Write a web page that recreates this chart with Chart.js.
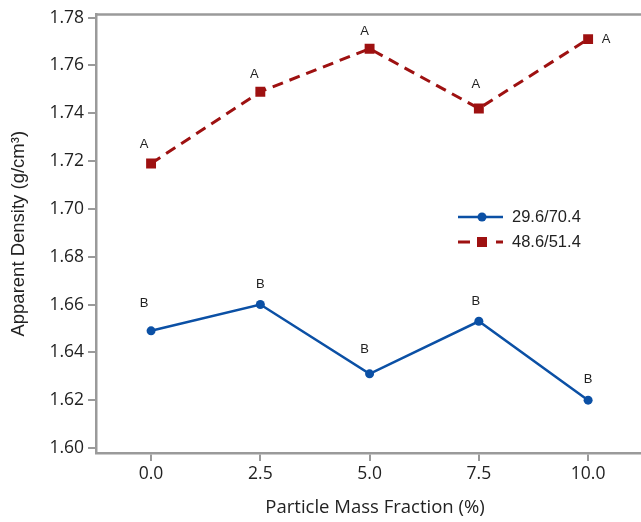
<!DOCTYPE html>
<html>
<head>
<meta charset="utf-8">
<script src="https://cdn.jsdelivr.net/npm/chart.js@4/dist/chart.umd.min.js"></script>
<style>
html,body{margin:0;padding:0;background:#fff;overflow:hidden;}
#wrap{width:641px;height:522px;position:relative;overflow:hidden;}
canvas{display:block;}
</style>
</head>
<body>
<div id="wrap"><canvas id="c" width="641" height="522"></canvas></div>
<script>
const massFraction = [0.0, 2.5, 5.0, 7.5, 10.0];
const series1Name = "29.6/70.4";
const series1Values = [1.649, 1.660, 1.631, 1.653, 1.620];
const series1Letters = ["B", "B", "B", "B", "B"];
const series2Name = "48.6/51.4";
const series2Values = [1.719, 1.749, 1.767, 1.742, 1.771];
const series2Letters = ["A", "A", "A", "A", "A"];
const yTickValues = [1.60, 1.62, 1.64, 1.66, 1.68, 1.70, 1.72, 1.74, 1.76, 1.78];
const xTickValues = [0.0, 2.5, 5.0, 7.5, 10.0];
const xTitle = 'Particle Mass Fraction (%)';
const yTitle = 'Apparent Density (g/cm³)';

const BLUE = '#0b50a5';
const RED = '#9e1111';
const AXIS = '#9a9a9a';
const FONT = "'Open Sans', 'Noto Sans', sans-serif";
const ARIAL = "'Liberation Sans', Arial, sans-serif";

const toPts = (xs, ys) => xs.map((x, i) => ({x: x, y: ys[i]}));

const letterPlugin = {
  id: 'letters',
  afterDatasetsDraw(chart) {
    const ctx = chart.ctx;
    const xs = chart.scales.x, ys = chart.scales.y;
    ctx.save();
    ctx.font = "13px " + ARIAL;
    ctx.fillStyle = '#222';
    ctx.textAlign = 'center';
    ctx.textBaseline = 'middle';
    const draw = (vals, letters, offs) => {
      vals.forEach((v, i) => {
        const px = xs.getPixelForValue(massFraction[i]);
        const py = ys.getPixelForValue(v);
        ctx.fillText(letters[i], px + offs[i][0], py + offs[i][1]);
      });
    };
    draw(series2Values, series2Letters, [[-7,-19],[-6,-17],[-5,-17],[-3,-24],[18,0]]);
    draw(series1Values, series1Letters, [[-7,-27],[0,-20],[-5,-24],[-3,-20],[0,-21]]);
    ctx.restore();
  }
};

const framePlugin = {
  id: 'frame',
  afterDraw(chart) {
    const ctx = chart.ctx;
    const a = chart.chartArea;
    ctx.save();
    ctx.strokeStyle = AXIS;
    ctx.lineWidth = 2.5;
    ctx.beginPath();
    ctx.moveTo(a.left, a.top);
    ctx.lineTo(chart.width, a.top);
    ctx.stroke();
    ctx.restore();

    // x-axis title
    ctx.save();
    ctx.fillStyle = '#222';
    ctx.font = "18.5px " + FONT;
    ctx.textAlign = 'center';
    ctx.textBaseline = 'middle';
    ctx.fillText(xTitle, 375, 508);
    ctx.restore();

    // custom legend
    ctx.save();
    const lx = 458, lw = 45;
    const rows = [
      {y: 217, name: series1Name, color: BLUE, style: 'circle'},
      {y: 242, name: series2Name, color: RED, style: 'rect'}
    ];
    rows.forEach(r => {
      ctx.strokeStyle = r.color;
      ctx.lineWidth = r.style === 'rect' ? 3 : 2.5;
      ctx.beginPath();
      if (r.style === 'rect') {
        ctx.moveTo(lx, r.y); ctx.lineTo(lx + 12, r.y);
        ctx.moveTo(lx + lw - 7, r.y); ctx.lineTo(lx + lw, r.y);
      } else {
        ctx.moveTo(lx, r.y); ctx.lineTo(lx + lw, r.y);
      }
      ctx.stroke();
      ctx.fillStyle = r.color;
      const cx = 482;
      if (r.style === 'circle') {
        ctx.beginPath(); ctx.arc(cx, r.y, 4.5, 0, Math.PI * 2); ctx.fill();
      } else {
        ctx.fillRect(cx - 5, r.y - 5, 10, 10);
      }
      ctx.fillStyle = '#222';
      ctx.font = "16.5px " + ARIAL;
      ctx.textAlign = 'left';
      ctx.textBaseline = 'middle';
      ctx.fillText(r.name, 512, r.y);
    });
    ctx.restore();
  }
};

new Chart(document.getElementById('c'), {
  type: 'line',
  data: {
    datasets: [
      {
        label: series1Name,
        data: toPts(massFraction, series1Values),
        borderColor: BLUE,
        backgroundColor: BLUE,
        borderWidth: 2.5,
        pointStyle: 'circle',
        pointRadius: 4.5,
        pointBorderWidth: 0,
        tension: 0
      },
      {
        label: series2Name,
        data: toPts(massFraction, series2Values),
        borderColor: RED,
        backgroundColor: RED,
        borderWidth: 3,
        borderDash: [11, 7],
        pointStyle: 'rect',
        pointRadius: 7,
        pointBorderWidth: 0,
        tension: 0
      }
    ]
  },
  options: {
    responsive: false,
    animation: false,
    layout: {autoPadding: false, padding: {top: 14, right: 0, left: 0, bottom: 0}},
    plugins: {legend: {display: false}, tooltip: {enabled: false}},
    scales: {
      x: {
        type: 'linear',
        min: -1.26,
        max: 11.21,
        afterBuildTicks: s => { s.ticks = xTickValues.map(v => ({value: v})); },
        afterFit: s => { s.height = 69; s.paddingLeft = 0; s.paddingRight = 0; },
        ticks: {
          callback: v => Number(v).toFixed(1),
          color: '#222',
          font: {size: 17.5, family: FONT},
          padding: 3,
          maxRotation: 0
        },
        grid: {display: true, drawOnChartArea: false, drawTicks: true, tickLength: 8, color: AXIS, lineWidth: 2},
        border: {display: true, color: AXIS, width: 2.5},
        title: {display: false}
      },
      y: {
        type: 'linear',
        min: 1.5979,
        max: 1.7813,
        afterBuildTicks: s => { s.ticks = yTickValues.map(v => ({value: v})); },
        afterFit: s => { s.width = 96; },
        ticks: {
          callback: v => Number(v).toFixed(2),
          color: '#222',
          font: {size: 17.5, family: FONT},
          padding: 4
        },
        grid: {display: true, drawOnChartArea: false, drawTicks: true, tickLength: 8, color: AXIS, lineWidth: 2},
        border: {display: true, color: AXIS, width: 2.5},
        title: {display: true, text: yTitle, color: '#222', font: {size: 18.5, family: ARIAL}, padding: {top: 8, bottom: 0}}
      }
    }
  },
  plugins: [letterPlugin, framePlugin]
});
</script>
</body>
</html>
